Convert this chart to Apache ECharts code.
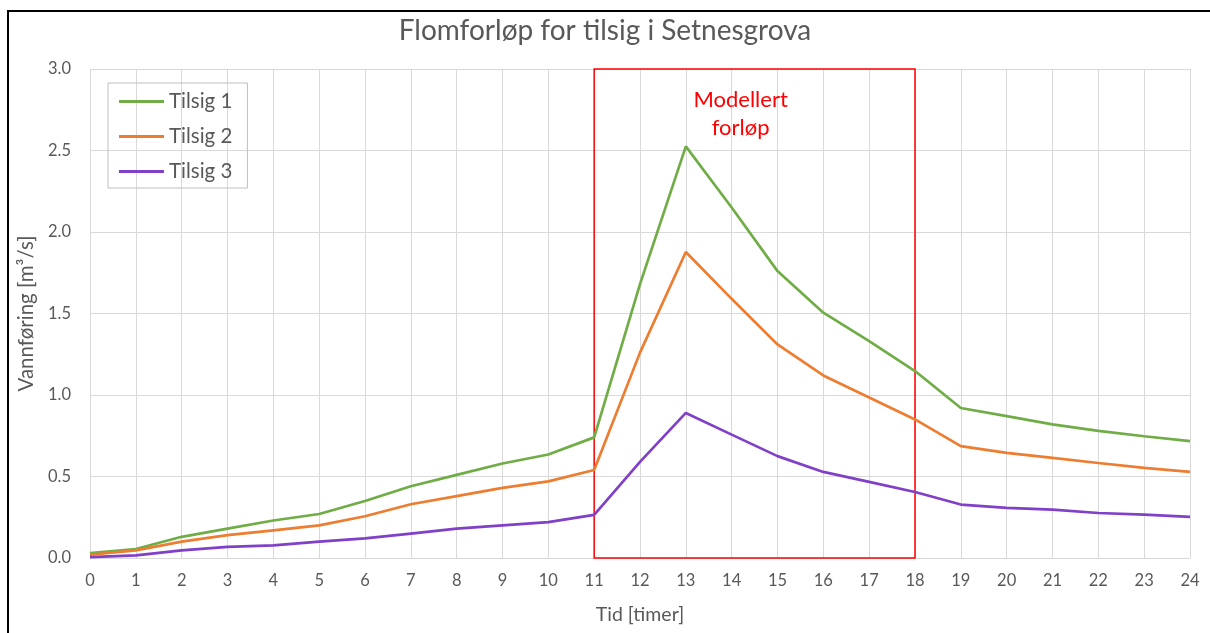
<!DOCTYPE html>
<html>
<head>
<meta charset="utf-8">
<script src="https://cdn.jsdelivr.net/npm/echarts@6/dist/echarts.min.js"></script>
<style>
html,body{margin:0;padding:0;background:#fff;}
#chart{width:1210px;height:633px;}
</style>
</head>
<body>
<div id="chart"></div>
<script>
const hours = [0,1,2,3,4,5,6,7,8,9,10,11,12,13,14,15,16,17,18,19,20,21,22,23,24];
const tilsig1 = [0.03,0.055,0.13,0.18,0.23,0.27,0.35,0.44,0.51,0.58,0.635,0.74,1.68,2.525,2.15,1.76,1.505,1.33,1.147,0.92,0.87,0.82,0.78,0.747,0.717];
const tilsig2 = [0.02,0.047,0.10,0.14,0.17,0.20,0.256,0.33,0.38,0.43,0.47,0.54,1.26,1.877,1.59,1.31,1.12,0.985,0.85,0.686,0.645,0.614,0.583,0.553,0.528];
const tilsig3 = [0.005,0.016,0.047,0.068,0.078,0.10,0.12,0.15,0.18,0.20,0.22,0.265,0.59,0.89,0.757,0.625,0.528,0.467,0.405,0.328,0.307,0.297,0.276,0.266,0.252];
const seriesNames = ['Tilsig 1','Tilsig 2','Tilsig 3'];
const modelStart = 11, modelEnd = 18;
const modelLabel = 'Modellert\nforløp';

const font = 'Lato, "Open Sans", sans-serif';
const txt = '#595959';
const colors = ['#70ad47','#ed7d31','#8040c8'];
const pairs = arr => arr.map((v,i)=>[hours[i], v]);

const chart = echarts.init(document.getElementById('chart'));
chart.setOption({
  backgroundColor:'#ffffff',
  animation:false,
  textStyle:{fontFamily:font},
  title:{
    text:'Flomforløp for tilsig i Setnesgrova',
    left:'center', top:12,
    textStyle:{fontFamily:font, fontSize:28, fontWeight:'normal', color:txt}
  },
  graphic:[{
    type:'rect', silent:true,
    shape:{x:8, y:11, width:1230, height:700},
    style:{fill:null, stroke:'#000', lineWidth:2}
  }],
  legend:{
    orient:'vertical', left:108, top:83,
    data:seriesNames,
    icon:'rect', itemWidth:45, itemHeight:3, itemGap:14,
    borderColor:'#bfbfbf', borderWidth:1,
    padding:[8,15,6,11],
    textStyle:{fontFamily:font, fontSize:20.5, color:txt}
  },
  grid:{left:90, right:20, top:69, bottom:75, containLabel:false},
  xAxis:{
    type:'value', min:0, max:24, interval:1,
    name:'Tid [timer]', nameLocation:'middle', nameGap:47,
    nameTextStyle:{fontFamily:font, fontSize:19.5, color:txt},
    axisLine:{show:true, lineStyle:{color:'#d9d9d9', width:1}},
    axisTick:{show:false},
    axisLabel:{fontFamily:font, fontSize:16.5, color:txt, margin:14},
    splitLine:{show:true, lineStyle:{color:'#d9d9d9', width:1}}
  },
  yAxis:{
    type:'value', min:0, max:3, interval:0.5,
    name:'Vannføring [m³/s]', nameLocation:'middle', nameGap:53,
    nameTextStyle:{fontFamily:font, fontSize:20.5, color:txt},
    axisLine:{show:false}, axisTick:{show:false},
    axisLabel:{fontFamily:font, fontSize:16.5, color:txt, margin:19, formatter:v=>v.toFixed(1)},
    splitLine:{show:true, lineStyle:{color:'#d9d9d9', width:1}}
  },
  series:[
    {
      name:seriesNames[0], type:'line', data:pairs(tilsig1), showSymbol:false, symbol:'none',
      lineStyle:{color:colors[0], width:2.7}, itemStyle:{color:colors[0]}, z:3,
      markArea:{
        silent:true,
        itemStyle:{color:'rgba(0,0,0,0)', borderColor:'#ff0000', borderWidth:1.5},
        label:{show:true, position:'insideTop', distance:18, offset:[-14,0],
          formatter:modelLabel, color:'#ff0000', fontFamily:font, fontSize:22, lineHeight:28},
        data:[[{xAxis:modelStart, yAxis:3},{xAxis:modelEnd, yAxis:0}]]
      }
    },
    {name:seriesNames[1], type:'line', data:pairs(tilsig2), showSymbol:false, symbol:'none',
      lineStyle:{color:colors[1], width:2.7}, itemStyle:{color:colors[1]}, z:3},
    {name:seriesNames[2], type:'line', data:pairs(tilsig3), showSymbol:false, symbol:'none',
      lineStyle:{color:colors[2], width:2.7}, itemStyle:{color:colors[2]}, z:3}
  ]
});
</script>
</body>
</html>
